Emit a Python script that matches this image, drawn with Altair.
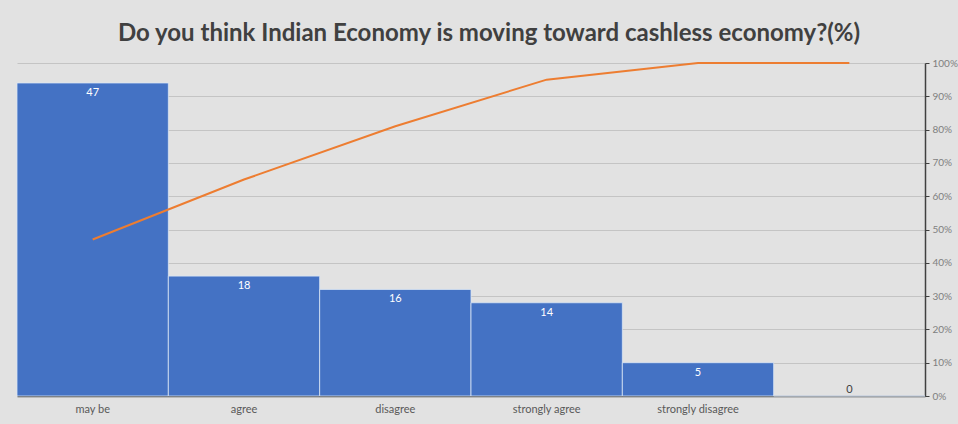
import altair as alt
import pandas as pd

categories = ["may be", "agree", "disagree", "strongly agree", "strongly disagree", " "]
counts = [47, 18, 16, 14, 5, 0]
cumulative_pct = [0.47, 0.65, 0.81, 0.95, 1.00, 1.00]

df = pd.DataFrame({"cat": categories, "count": counts, "cum": cumulative_pct})

FONT = "Lato"
x = alt.X("cat:N", sort=categories, title=None,
          scale=alt.Scale(paddingInner=0, paddingOuter=0),
          axis=alt.Axis(labelAngle=0, labelColor="#595959", labelFontSize=11, labelFont=FONT,
                        ticks=False, domainColor="#404040", domainWidth=1.5, labelPadding=7))

ycount = alt.Y("count:Q", scale=alt.Scale(domain=[0, 50]), axis=None)

bars = alt.Chart(df).mark_bar(color="#4472C4", stroke="#dbe6f5", strokeWidth=0.8).encode(
    x=x, y=ycount,
)

labels = alt.Chart(df).transform_filter("datum.count > 0").mark_text(
    color="white", fontSize=11, font=FONT, baseline="top", dy=4
).encode(x=x, y=ycount, text="count:Q")

zero_label = alt.Chart(df).transform_filter("datum.count == 0").mark_text(
    color="#404040", fontSize=11, font=FONT, baseline="bottom", dy=-1
).encode(x=x, y=ycount, text="count:Q")

left = alt.layer(bars, labels, zero_label)

line = alt.Chart(df).mark_line(color="#ED7D31", strokeWidth=2).encode(
    x=x,
    y=alt.Y("cum:Q", scale=alt.Scale(domain=[0, 1]), title=None,
            axis=alt.Axis(orient="right", format="%", values=[i / 10 for i in range(11)],
                          labelColor="#7f7f7f", labelFontSize=10, labelFont=FONT,
                          grid=True, gridColor="#c4c4c4", gridWidth=1,
                          domainColor="#404040", domainWidth=1.5, tickColor="#404040",
                          tickSize=4, labelPadding=3)),
)

chart = alt.layer(left, line).resolve_scale(y="independent").properties(
    width=908, height=333,
    title=alt.TitleParams("Do you think Indian Economy is moving toward cashless economy?(%)",
                          fontSize=24, font=FONT, fontWeight="bold", color="#404040",
                          anchor="middle", offset=12, dx=18),
    background="#e2e2e2",
    padding={"left": 17, "top": 63, "right": 33, "bottom": 28},
    autosize="none",
).configure_view(stroke=None)

chart.save("out.html", embed_options={"renderer": "svg", "actions": False})
